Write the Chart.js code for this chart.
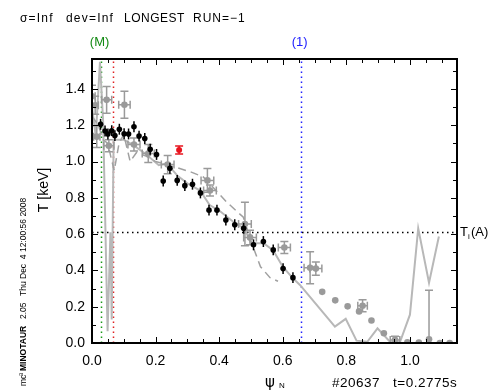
<!DOCTYPE html>
<html>
<head>
<meta charset="utf-8">
<script src="https://cdn.jsdelivr.net/npm/chart.js@4"></script>
<style>
  html, body { margin: 0; padding: 0; background: #fff; }
  #wrap { width: 491px; height: 391px; }
</style>
</head>
<body>
<div id="wrap"><canvas id="profile" width="491" height="391"></canvas></div>
<script>
// black points (fine channels), small vertical errors
const blackX = [0.027, 0.041, 0.050, 0.062, 0.072, 0.086, 0.101, 0.115, 0.132, 0.148, 0.166, 0.183, 0.203, 0.224, 0.245,
                0.268, 0.292, 0.316, 0.341, 0.368, 0.393, 0.421, 0.449, 0.477, 0.508, 0.539, 0.570, 0.601, 0.632];
const blackY = [1.205, 1.168, 1.152, 1.170, 1.143, 1.178, 1.153, 1.152, 1.192, 1.140, 1.127, 1.068, 1.039, 0.893, 0.963,
                0.896, 0.867, 0.875, 0.827, 0.732, 0.732, 0.678, 0.652, 0.632, 0.541, 0.559, 0.513, 0.410, 0.360];
const blackErr = [0.03, 0.03, 0.03, 0.03, 0.03, 0.03, 0.03, 0.03, 0.03, 0.03, 0.03, 0.03, 0.03, 0.03, 0.03,
                  0.03, 0.03, 0.03, 0.03, 0.03, 0.03, 0.03, 0.03, 0.03, 0.03, 0.03, 0.03, 0.03, 0.03];

// gray points with x/y errors
const grayX = [0.0, 0.010, 0.015, 0.046, 0.053, 0.102, 0.132, 0.177, 0.238, 0.363, 0.371, 0.481, 0.497, 0.605, 0.686,
               0.704, 0.724, 0.765, 0.804, 0.840, 0.851, 0.879, 0.918, 0.953, 0.992, 1.028, 1.060, 1.094, 1.125];
const grayY = [1.36, 1.31, 1.137, 1.34, 1.087, 1.313, 1.094, 1.044, 0.983, 0.896, 0.840, 0.656, 0.582, 0.526, 0.415,
               0.410, 0.282, 0.235, 0.202, 0.174, 0.205, 0.124, 0.054, 0.017, 0.004, 0.002, 0.020, 0.0, 0.0];
const grayYErr = [0.06, 0.05, 0.06, 0.074, 0.033, 0.074, 0.036, 0.05, 0.05, 0.065, 0.03, 0.12, 0.04, 0.033, 0.088,
                  0.037, 0, 0, 0, 0, 0.033, 0, 0, 0.02, 0, 0, 0.27, 0, 0];
const grayXErr = [0.01, 0.01, 0.01, 0.016, 0.016, 0.018, 0.019, 0.019, 0.02, 0.02, 0.02, 0.02, 0.02, 0.019, 0.019,
                  0.019, 0, 0, 0, 0, 0.015, 0, 0, 0.015, 0, 0, 0, 0, 0];

// red point
const redX = [0.274];
const redY = [1.063];
const redErr = [0.022];

// solid gray profile
const solidX = [0.0, 0.012, 0.025, 0.035, 0.049, 0.058, 0.062, 0.068, 0.10, 0.13, 0.17, 0.21, 0.235, 0.27, 0.30, 0.34,
                0.37, 0.40, 0.45, 0.48, 0.50, 0.54, 0.57, 0.60, 0.63, 0.654, 0.764, 0.798, 0.832, 0.866, 0.898, 0.937,
                0.969, 1.0, 1.026, 1.06, 1.091];
const solidY = [1.30, 1.14, 1.55, 1.22, 0.065, 0.61, 0.13, 1.12, 1.12, 1.09, 1.04, 0.98, 0.99, 0.92, 0.88, 0.84,
                0.76, 0.73, 0.66, 0.63, 0.55, 0.55, 0.51, 0.42, 0.36, 0.32, 0.09, 0.133, 0.013, 0.007, 0.081, 0.007,
                0.007, 0.156, 0.632, 0.332, 0.587];

// dashed gray profile
const dashX = [0.0, 0.02, 0.035, 0.05, 0.06, 0.07, 0.085, 0.10, 0.12, 0.14, 0.17, 0.20, 0.26, 0.31, 0.35, 0.39,
               0.424, 0.476, 0.50, 0.53, 0.56, 0.585];
const dashY = [1.25, 1.20, 1.12, 1.10, 1.02, 0.95, 1.10, 1.15, 1.00, 1.05, 1.03, 1.00, 0.97, 0.943, 0.915, 0.84,
               0.776, 0.693, 0.56, 0.42, 0.36, 0.34];

// reference lines
const vLineX = [0.027, 0.067, 0.656];
const vLineColors = ['#1a9a1a', '#e02020', '#2020ff'];
const vLineTags = ['(M)', '', '(1)'];
const tiLevel = 0.61;

const xMax = 1.148, yMax = 1.565;

const profilePlugin = {
    id: 'profile',
    beforeDatasetsDraw(chart) {
        const { ctx, chartArea: a, scales: { x, y } } = chart;
        ctx.save();
        ctx.lineWidth = 1.5;
        ctx.setLineDash([1.5, 3.5]);
        vLineX.forEach((v, i) => {
            const px = Math.round(x.getPixelForValue(v)) + 0.5;
            ctx.strokeStyle = vLineColors[i];
            ctx.beginPath();
            ctx.moveTo(px, a.bottom);
            ctx.lineTo(px, a.top);
            ctx.stroke();
        });
        const py = Math.round(y.getPixelForValue(tiLevel)) + 0.5;
        ctx.strokeStyle = '#000';
        ctx.beginPath();
        ctx.moveTo(a.left, py);
        ctx.lineTo(a.right, py);
        ctx.stroke();
        ctx.restore();
    },
    afterDatasetDraw(chart, args) {
        const ds = chart.data.datasets[args.index];
        if (!ds.errY) return;
        const { ctx, chartArea: a, scales: { x, y } } = chart;
        ctx.save();
        ctx.beginPath();
        ctx.rect(a.left, a.top, a.width, a.height);
        ctx.clip();
        ctx.strokeStyle = ds.borderColor;
        ctx.lineWidth = 1.5;
        const cap = ds.capWidth;
        ds.data.forEach((p, i) => {
            const px = x.getPixelForValue(p.x);
            const py = y.getPixelForValue(p.y);
            const ey = ds.errY[i];
            if (ey > 0) {
                const y1 = y.getPixelForValue(p.y - ey), y2 = y.getPixelForValue(p.y + ey);
                ctx.beginPath();
                ctx.moveTo(px, y1); ctx.lineTo(px, y2);
                if (cap > 0) {
                    ctx.moveTo(px - cap / 2, y1); ctx.lineTo(px + cap / 2, y1);
                    ctx.moveTo(px - cap / 2, y2); ctx.lineTo(px + cap / 2, y2);
                }
                ctx.stroke();
            }
            const ex = ds.errX ? ds.errX[i] : 0;
            if (ex > 0) {
                const x1 = x.getPixelForValue(p.x - ex), x2 = x.getPixelForValue(p.x + ex);
                ctx.beginPath();
                ctx.moveTo(x1, py); ctx.lineTo(x2, py);
                ctx.moveTo(x1, py - cap / 2); ctx.lineTo(x1, py + cap / 2);
                ctx.moveTo(x2, py - cap / 2); ctx.lineTo(x2, py + cap / 2);
                ctx.stroke();
            }
        });
        ctx.restore();
    },
    afterDraw(chart) {
        const { ctx, chartArea: a, scales: { x, y } } = chart;
        ctx.save();
        // frame
        ctx.strokeStyle = '#000';
        ctx.lineWidth = 2;
        ctx.strokeRect(a.left, a.top, a.width, a.height);
        // ticks on all four sides, pointing inward
        ctx.lineWidth = 1;
        for (let k = 0; k * 0.05 <= xMax; k++) {
            const px = Math.round(x.getPixelForValue(k * 0.05)) + 0.5;
            const len = k % 4 === 0 ? 6 : 4;
            ctx.beginPath();
            ctx.moveTo(px, a.bottom); ctx.lineTo(px, a.bottom - len);
            ctx.moveTo(px, a.top); ctx.lineTo(px, a.top + len);
            ctx.stroke();
        }
        for (let k = 0; k * 0.1 <= yMax; k++) {
            const py = Math.round(y.getPixelForValue(k * 0.1)) + 0.5;
            const len = k % 2 === 0 ? 6 : 4;
            ctx.beginPath();
            ctx.moveTo(a.left, py); ctx.lineTo(a.left + len, py);
            ctx.moveTo(a.right, py); ctx.lineTo(a.right - len, py);
            ctx.stroke();
        }

        ctx.fillStyle = '#000';
        ctx.textBaseline = 'alphabetic';
        ctx.textAlign = 'left';
        ctx.font = '12px "Liberation Sans", Arial, sans-serif';
        ctx.letterSpacing = '1.2px';
        ctx.fillText('σ=Inf', 20, 22);
        ctx.fillText('dev=Inf', 66, 22);
        ctx.letterSpacing = '0.5px';
        ctx.fillText('LONGEST', 124, 22);
        ctx.letterSpacing = '1px';
        ctx.fillText('RUN=−1', 193, 22);
        ctx.letterSpacing = '0px';

        // tags above the vertical lines
        ctx.font = '13px "Liberation Sans", Arial, sans-serif';
        ctx.textAlign = 'center';
        vLineX.forEach((v, i) => {
            if (!vLineTags[i]) return;
            ctx.fillStyle = vLineColors[i] === '#1a9a1a' ? '#138a13' : vLineColors[i];
            ctx.fillText(vLineTags[i], x.getPixelForValue(v) - 1, 46);
        });

        // T_i(A)
        ctx.fillStyle = '#000';
        ctx.textAlign = 'left';
        const ty = Math.round(y.getPixelForValue(tiLevel)) + 4;
        ctx.font = '13px "Liberation Sans", Arial, sans-serif';
        ctx.fillText('T', a.right + 3, ty);
        ctx.font = '8px "Liberation Sans", Arial, sans-serif';
        ctx.fillText('i', a.right + 11, ty + 3);
        ctx.font = '13px "Liberation Sans", Arial, sans-serif';
        ctx.fillText('(A)', a.right + 14, ty);

        // x title
        ctx.font = '15px "DejaVu Sans", sans-serif';
        ctx.fillText('ψ', 265, 387);
        ctx.font = '8px "Liberation Sans", Arial, sans-serif';
        ctx.fillText('N', 279, 388);
        ctx.font = '13.5px "Liberation Sans", Arial, sans-serif';
        ctx.letterSpacing = '0.5px';
        ctx.fillText('#20637', 332, 387);
        ctx.fillText('t=0.2775s', 393, 387);
        ctx.letterSpacing = '0px';

        // y title
        ctx.save();
        ctx.translate(48, 190);
        ctx.rotate(-Math.PI / 2);
        ctx.textAlign = 'center';
        ctx.font = '14px "Liberation Sans", Arial, sans-serif';
        ctx.fillText('T [keV]', 0, 0);
        ctx.restore();

        // stamp along left edge
        ctx.save();
        ctx.translate(26, 386);
        ctx.rotate(-Math.PI / 2);
        ctx.textAlign = 'left';
        ctx.font = '8.5px "Liberation Sans", Arial, sans-serif';
        ctx.fillText('mc', 0, 0);
        ctx.font = '6px "Liberation Sans", Arial, sans-serif';
        ctx.fillText('3', 10, -3);
        ctx.font = 'bold 8.5px "Liberation Sans", Arial, sans-serif';
        ctx.fillText('MINOTAUR', 15, 0);
        ctx.font = '8.5px "Liberation Sans", Arial, sans-serif';
        ctx.fillText('2.05', 67, 0);
        ctx.fillText('Thu Dec  4 12:00:56 2008', 90, 0);
        ctx.restore();

        ctx.restore();
    }
};

const toPts = (xs, ys) => xs.map((v, i) => ({ x: v, y: ys[i] }));

const ctx = document.getElementById('profile').getContext('2d');
const chart = new Chart(ctx, {
    type: 'scatter',
    data: {
        datasets: [
            {
                label: 'red',
                data: toPts(redX, redY),
                errY: redErr,
                capWidth: 8,
                pointRadius: 3,
                pointBackgroundColor: '#e8141e',
                pointBorderWidth: 0,
                borderColor: '#e8141e',
                showLine: false
            },
            {
                label: 'black',
                data: toPts(blackX, blackY),
                errY: blackErr,
                capWidth: 0,
                pointRadius: 2.8,
                pointBackgroundColor: '#000',
                pointBorderWidth: 0,
                borderColor: '#000',
                showLine: false
            },
            {
                label: 'gray',
                data: toPts(grayX, grayY),
                errY: grayYErr,
                errX: grayXErr,
                capWidth: 8,
                pointRadius: 3.3,
                pointBackgroundColor: '#9a9a9a',
                pointBorderWidth: 0,
                borderColor: '#9a9a9a',
                showLine: false
            },
            {
                label: 'dashed',
                data: toPts(dashX, dashY),
                showLine: true,
                pointRadius: 0,
                borderColor: '#a0a0a0',
                borderWidth: 1.5,
                borderDash: [8, 5]
            },
            {
                label: 'solid',
                data: toPts(solidX, solidY),
                showLine: true,
                pointRadius: 0,
                borderColor: '#b8b8b8',
                borderWidth: 2
            }
        ]
    },
    options: {
        responsive: false,
        animation: false,
        layout: { padding: { left: 0, top: 59, right: 34, bottom: 0 } },
        plugins: {
            legend: { display: false },
            tooltip: { enabled: false }
        },
        scales: {
            x: {
                type: 'linear',
                min: 0,
                max: xMax,
                grid: { display: false, drawTicks: false },
                border: { display: false },
                ticks: {
                    stepSize: 0.2,
                    includeBounds: false,
                    padding: 10,
                    color: '#000',
                    font: { family: 'Liberation Sans', size: 14 },
                    callback: v => v.toFixed(1)
                },
                afterFit: s => { s.height = 48; }
            },
            y: {
                type: 'linear',
                min: 0,
                max: yMax,
                grid: { display: false, drawTicks: false },
                border: { display: false },
                ticks: {
                    stepSize: 0.2,
                    includeBounds: false,
                    padding: 7,
                    color: '#000',
                    font: { family: 'Liberation Sans', size: 14 },
                    callback: v => v.toFixed(1)
                },
                afterFit: s => { s.width = 92; }
            }
        }
    },
    plugins: [profilePlugin]
});
</script>
</body>
</html>
